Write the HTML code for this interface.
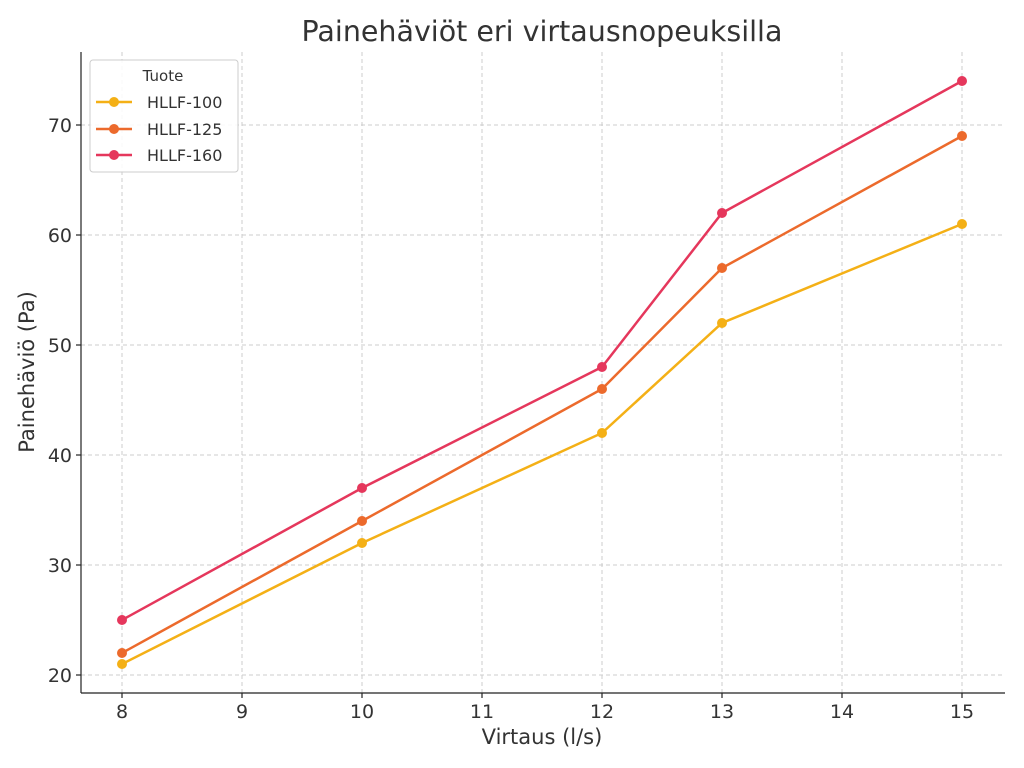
<!DOCTYPE html>
<html><head><meta charset="utf-8"><style>body{margin:0;background:#fff}svg{display:block}text{font-family:"DejaVu Sans","Liberation Sans",sans-serif;fill:#333}</style></head>
<body>
<svg width="1024" height="768" xmlns="http://www.w3.org/2000/svg">
<rect width="1024" height="768" fill="#fff"/>
<g stroke="#ccc" stroke-width="1" stroke-dasharray="4,3">
<line x1="122" y1="52" x2="122" y2="693"/><line x1="242" y1="52" x2="242" y2="693"/><line x1="362" y1="52" x2="362" y2="693"/><line x1="482" y1="52" x2="482" y2="693"/><line x1="602" y1="52" x2="602" y2="693"/><line x1="722" y1="52" x2="722" y2="693"/><line x1="842" y1="52" x2="842" y2="693"/><line x1="962" y1="52" x2="962" y2="693"/>
<line x1="81" y1="675" x2="1005" y2="675"/><line x1="81" y1="565" x2="1005" y2="565"/><line x1="81" y1="455" x2="1005" y2="455"/><line x1="81" y1="345" x2="1005" y2="345"/><line x1="81" y1="235" x2="1005" y2="235"/><line x1="81" y1="125" x2="1005" y2="125"/>
</g>
<g stroke="#222" stroke-width="1.2"><line x1="81" y1="52" x2="81" y2="693"/><line x1="81" y1="693" x2="1005" y2="693"/>
<line x1="122" y1="693" x2="122" y2="698"/><line x1="242" y1="693" x2="242" y2="698"/><line x1="362" y1="693" x2="362" y2="698"/><line x1="482" y1="693" x2="482" y2="698"/><line x1="602" y1="693" x2="602" y2="698"/><line x1="722" y1="693" x2="722" y2="698"/><line x1="842" y1="693" x2="842" y2="698"/><line x1="962" y1="693" x2="962" y2="698"/>
<line x1="76" y1="675" x2="81" y2="675"/><line x1="76" y1="565" x2="81" y2="565"/><line x1="76" y1="455" x2="81" y2="455"/><line x1="76" y1="345" x2="81" y2="345"/><line x1="76" y1="235" x2="81" y2="235"/><line x1="76" y1="125" x2="81" y2="125"/></g>
<g font-size="19" text-anchor="middle">
<text x="122" y="718">8</text><text x="242" y="718">9</text><text x="362" y="718">10</text><text x="482" y="718">11</text><text x="602" y="718">12</text><text x="722" y="718">13</text><text x="842" y="718">14</text><text x="962" y="718">15</text></g>
<g font-size="19" text-anchor="end">
<text x="72" y="682">20</text><text x="72" y="572">30</text><text x="72" y="462">40</text><text x="72" y="352">50</text><text x="72" y="242">60</text><text x="72" y="132">70</text></g>
<text x="542" y="744" font-size="21" text-anchor="middle">Virtaus (l/s)</text>
<text transform="translate(34,372) rotate(-90)" font-size="21" text-anchor="middle">Painehäviö (Pa)</text>
<text x="542" y="41" font-size="28.5" text-anchor="middle">Painehäviöt eri virtausnopeuksilla</text>
<g fill="none" stroke-width="2.5">
<polyline stroke="#f4b016" points="122,664 362,543 602,433 722,323 962,224"/>
<polyline stroke="#ec6a2c" points="122,653 362,521 602,389 722,268 962,136"/>
<polyline stroke="#e5375c" points="122,620 362,488 602,367 722,213 962,81"/>
</g>
<g fill="#f4b016"><circle cx="122" cy="664" r="5"/><circle cx="362" cy="543" r="5"/><circle cx="602" cy="433" r="5"/><circle cx="722" cy="323" r="5"/><circle cx="962" cy="224" r="5"/></g>
<g fill="#ec6a2c"><circle cx="122" cy="653" r="5"/><circle cx="362" cy="521" r="5"/><circle cx="602" cy="389" r="5"/><circle cx="722" cy="268" r="5"/><circle cx="962" cy="136" r="5"/></g>
<g fill="#e5375c"><circle cx="122" cy="620" r="5"/><circle cx="362" cy="488" r="5"/><circle cx="602" cy="367" r="5"/><circle cx="722" cy="213" r="5"/><circle cx="962" cy="81" r="5"/></g>
<rect x="90" y="60" width="148" height="112" rx="3" fill="#fff" fill-opacity="0.85" stroke="#ccc"/>
<text x="163" y="81" font-size="15" text-anchor="middle">Tuote</text>
<g stroke-width="2.5"><line x1="96" y1="102" x2="132" y2="102" stroke="#f4b016"/><line x1="96" y1="129" x2="132" y2="129" stroke="#ec6a2c"/><line x1="96" y1="155" x2="132" y2="155" stroke="#e5375c"/></g>
<circle cx="114" cy="102" r="5" fill="#f4b016"/><circle cx="114" cy="129" r="5" fill="#ec6a2c"/><circle cx="114" cy="155" r="5" fill="#e5375c"/>
<g font-size="16"><text x="147" y="108">HLLF-100</text><text x="147" y="135">HLLF-125</text><text x="147" y="161">HLLF-160</text></g>
</svg>
</body></html>
